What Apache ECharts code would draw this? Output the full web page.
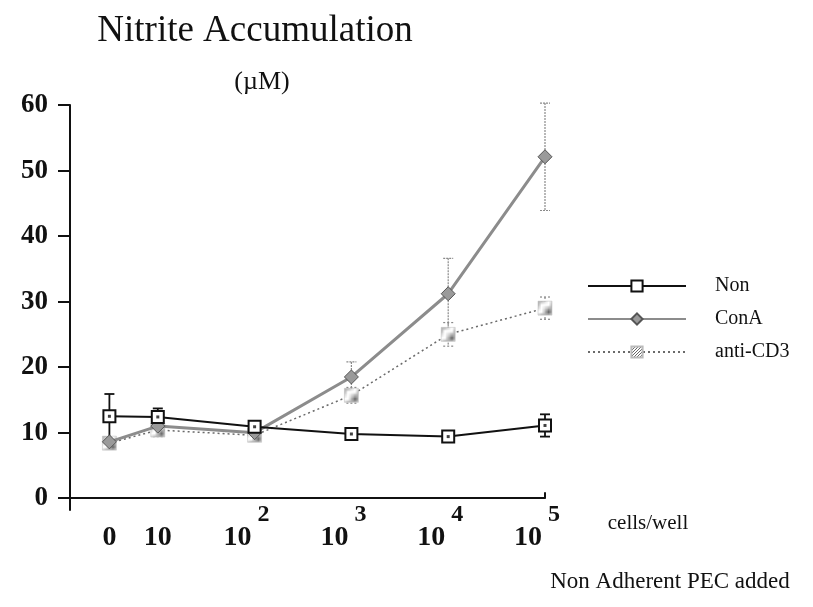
<!DOCTYPE html>
<html>
<head>
<meta charset="utf-8">
<script src="https://cdn.jsdelivr.net/npm/echarts@6/dist/echarts.min.js"></script>
<style>
  html, body { margin: 0; padding: 0; background: #fff; }
  #chart { width: 813px; height: 607px; }
</style>
</head>
<body>
<div id="chart"></div>
<script>
// x position of each dose on a log10 scale (0 cells drawn half a decade left of 10)
const doseLog = [0.5, 1, 2, 3, 4, 5];
const doseBase = ['0', '10', '10', '10', '10', '10'];
const doseExp = ['', '', '2', '3', '4', '5'];
const yTicks = [0, 10, 20, 30, 40, 50, 60];

const seriesNames = ['Non', 'ConA', 'anti-CD3'];
const nonMean = [12.5, 12.4, 10.9, 9.8, 9.4, 11.1];
const nonErr = [3.4, 1.3, 0.6, 0.5, 0.4, 1.7];
const conaMean = [8.6, 11.0, 10.0, 18.5, 31.2, 52.1];
const conaErr = [0.6, 1.0, 0.5, 2.3, 5.4, 8.2];
const cd3Mean = [8.4, 10.4, 9.6, 15.7, 25.0, 29.0];
const cd3Err = [0.8, 1.0, 0.8, 1.2, 1.8, 1.7];

const SERIF = '"Liberation Serif", "Times New Roman", serif';

const pts = (ys) => doseLog.map((x, i) => [x, ys[i]]);
const bars = (ys, es) => doseLog.map((x, i) => [x, ys[i] - es[i], ys[i] + es[i]]);

// stippled fill for the anti-CD3 marker
const dots = document.createElement('canvas');
dots.width = 3; dots.height = 3;
const dctx = dots.getContext('2d');
dctx.fillStyle = '#fff'; dctx.fillRect(0, 0, 3, 3);
dctx.fillStyle = '#666'; dctx.fillRect(0, 0, 1, 1); dctx.fillRect(2, 1, 1, 1); dctx.fillRect(1, 2, 1, 1);

// vertical error bar with caps
const errorBar = (color, width, dash) => (params, api) => {
    const x = api.value(0);
    const lo = api.coord([x, api.value(1)]);
    const hi = api.coord([x, api.value(2)]);
    const cap = 5;
    const style = { stroke: color, lineWidth: width, lineDash: dash };
    return {
        type: 'group',
        children: [
            { type: 'line', shape: { x1: hi[0], y1: hi[1], x2: lo[0], y2: lo[1] }, style },
            { type: 'line', shape: { x1: hi[0] - cap, y1: hi[1], x2: hi[0] + cap, y2: hi[1] }, style },
            { type: 'line', shape: { x1: lo[0] - cap, y1: lo[1], x2: lo[0] + cap, y2: lo[1] }, style }
        ]
    };
};

let myChart = echarts.init(document.getElementById('chart'), null, { renderer: 'canvas' });

let option = {
    backgroundColor: '#fff',
    animation: false,
    textStyle: { fontFamily: SERIF },
    grid: { left: 61, right: 268, top: 105, bottom: 97, containLabel: false, outerBoundsMode: 'none' },
    legend: {
        data: seriesNames,
        orient: 'vertical',
        left: 582,
        top: 271,
        itemWidth: 98,
        itemHeight: 14,
        itemGap: 13,
        textStyle: { fontFamily: SERIF, fontSize: 20, color: '#111', padding: [0, 0, 0, 24] }
    },
    xAxis: {
        type: 'value',
        min: 0,
        max: 5,
        axisLine: { onZero: true, lineStyle: { color: '#111', width: 2 } },
        axisTick: { show: true, customValues: [5], inside: true, length: 6, lineStyle: { color: '#111', width: 2 } },
        splitLine: { show: false },
        axisLabel: {
            customValues: doseLog,
            margin: -6,
            formatter: (v) => {
                const i = doseLog.indexOf(v);
                return doseExp[i]
                    ? '{s|' + doseExp[i] + '}\n{b|' + doseBase[i] + '}'
                    : '{s| }\n{c|' + doseBase[i] + '}';
            },
            rich: {
                s: { fontFamily: SERIF, fontWeight: 'bold', fontSize: 24, lineHeight: 22, padding: [0, 0, 0, 18], color: '#111' },
                b: { fontFamily: SERIF, fontWeight: 'bold', fontSize: 28, lineHeight: 24, padding: [0, 34, 0, 0], color: '#111' },
                c: { fontFamily: SERIF, fontWeight: 'bold', fontSize: 28, lineHeight: 24, color: '#111' }
            }
        }
    },
    yAxis: {
        type: 'value',
        min: -1.8,
        max: 60,
        offset: -9,
        axisLine: { show: true, onZero: false, lineStyle: { color: '#111', width: 2 } },
        axisTick: { show: true, customValues: yTicks, length: 12, lineStyle: { color: '#111', width: 2 } },
        splitLine: { show: false },
        axisLabel: {
            customValues: yTicks,
            margin: 22,
            padding: [0, 0, 10, 0],
            fontFamily: SERIF,
            fontWeight: 'bold',
            fontSize: 27,
            color: '#111'
        }
    },
    graphic: [
        { type: 'text', x: 255, y: 31, style: { text: 'Nitrite Accumulation', font: '37px ' + SERIF, fill: '#111', textAlign: 'center', textVerticalAlign: 'middle' } },
        { type: 'text', x: 262, y: 82, style: { text: '(µM)', font: '26px ' + SERIF, fill: '#111', textAlign: 'center', textVerticalAlign: 'middle' } },
        { type: 'text', x: 648, y: 523, style: { text: 'cells/well', font: '21px ' + SERIF, fill: '#111', textAlign: 'center', textVerticalAlign: 'middle' } },
        { type: 'text', x: 670, y: 582, style: { text: 'Non Adherent PEC added', font: '23px ' + SERIF, fill: '#111', textAlign: 'center', textVerticalAlign: 'middle' } }
    ],
    series: [
        {
            name: 'anti-CD3 err', type: 'custom', z: 1, silent: true,
            renderItem: errorBar('#888', 1.2, [2, 2]),
            encode: { x: 0, y: [1, 2] },
            data: bars(cd3Mean, cd3Err)
        },
        {
            name: 'ConA err', type: 'custom', z: 1, silent: true,
            renderItem: errorBar('#8a8a8a', 1.2, [2, 1]),
            encode: { x: 0, y: [1, 2] },
            data: bars(conaMean, conaErr)
        },
        {
            name: 'Non err', type: 'custom', z: 1, silent: true,
            renderItem: errorBar('#111', 1.8, null),
            encode: { x: 0, y: [1, 2] },
            data: bars(nonMean, nonErr)
        },
        {
            name: 'anti-CD3', type: 'line', z: 2,
            symbol: 'rect', symbolSize: 14,
            lineStyle: { color: '#6a6a6a', width: 1.5, type: [2, 3] },
            itemStyle: { color: { image: dots, repeat: 'repeat' }, borderColor: '#bbb', borderWidth: 0.5 },
            data: pts(cd3Mean)
        },
        {
            name: 'ConA', type: 'line', z: 3,
            symbol: 'diamond', symbolSize: 14,
            lineStyle: { color: '#8c8c8c', width: 3 },
            itemStyle: { color: '#9a9a9a', borderColor: '#555', borderWidth: 1 },
            data: pts(conaMean)
        },
        {
            name: 'Non', type: 'line', z: 4,
            symbol: 'rect', symbolSize: 12,
            lineStyle: { color: '#111', width: 2 },
            itemStyle: { color: '#fff', borderColor: '#111', borderWidth: 2 },
            data: pts(nonMean)
        },
        {
            name: 'Non dot', type: 'scatter', z: 5, silent: true,
            symbol: 'rect', symbolSize: 3,
            itemStyle: { color: '#111' },
            data: pts(nonMean)
        }
    ]
};

myChart.setOption(option);
</script>
</body>
</html>
